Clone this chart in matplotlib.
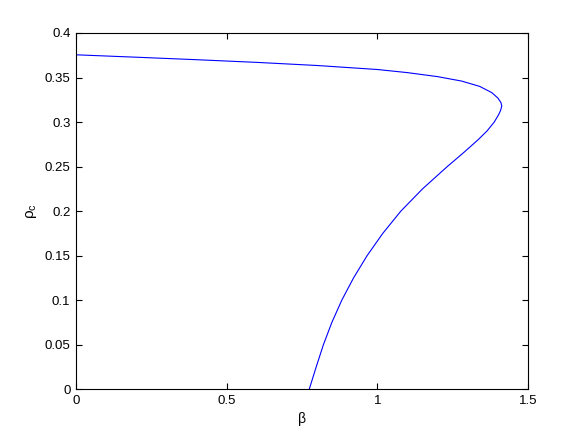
import matplotlib
matplotlib.use("Agg")
from matplotlib import pyplot as plt

# Critical density curve (beta, rho_c).
# Upper branch from beta = 0 to the turning point, then the lower branch down to rho_c = 0.
beta = [0.000, 0.200, 0.400, 0.600, 0.800, 1.000, 1.100, 1.200, 1.280, 1.340,
        1.380, 1.400, 1.410, 1.413, 1.409, 1.402, 1.388, 1.364, 1.334, 1.284,
        1.232, 1.150, 1.078, 1.018, 0.966, 0.921, 0.882, 0.849, 0.821, 0.797,
        0.774]
rho_c = [0.3755, 0.3728, 0.3700, 0.3670, 0.3635, 0.3590, 0.3555, 0.3510, 0.3460, 0.3400,
         0.3330, 0.3270, 0.3220, 0.3180, 0.3130, 0.3080, 0.3000, 0.2900, 0.2800, 0.2650,
         0.2500, 0.2250, 0.2000, 0.1750, 0.1500, 0.1250, 0.1000, 0.0750, 0.0500, 0.0250,
         0.0000]

x_ticks = [0, 0.5, 1, 1.5]
x_tick_labels = ["0", "0.5", "1", "1.5"]
y_ticks = [0, 0.05, 0.1, 0.15, 0.2, 0.25, 0.3, 0.35, 0.4]
y_tick_labels = ["0", "0.05", "0.1", "0.15", "0.2", "0.25", "0.3", "0.35", "0.4"]

plt.rcParams['font.family'] = ['Liberation Sans', 'DejaVu Sans']

fig = plt.figure(figsize=(5.82, 4.38), dpi=100)
ax = fig.add_axes([0.1306, 0.1112, 0.7766, 0.8135])
ax.plot(beta, rho_c, color="#0000ff", linewidth=0.8)

ax.set_xlim(0, 1.5)
ax.set_ylim(0, 0.4)
ax.set_xticks(x_ticks)
ax.set_xticklabels(x_tick_labels)
ax.set_yticks(y_ticks)
ax.set_yticklabels(y_tick_labels)
ax.tick_params(direction="in", top=True, right=True, length=4, width=0.8,
               labelsize=9.5, pad=4)
for spine in ax.spines.values():
    spine.set_linewidth(0.8)

ax.set_xlabel("β", fontsize=10)
ax.set_ylabel(r"ρ$_\mathregular{c}$", fontsize=11)

fig.savefig("out.png", dpi=100)
